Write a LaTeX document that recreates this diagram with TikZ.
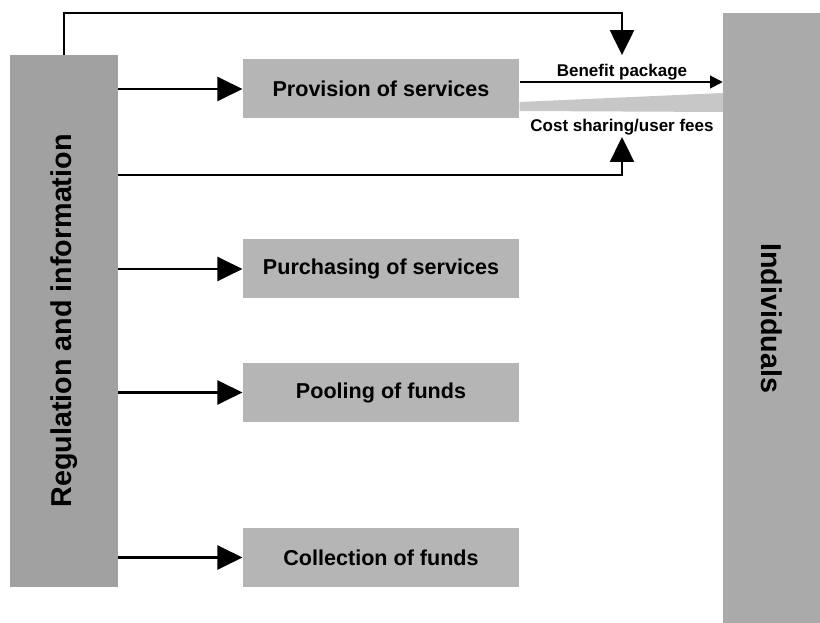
\documentclass[tikz,border=0pt]{standalone}
\usepackage{fontspec}
\setmainfont{Liberation Sans}
\usepackage{graphicx}
\usetikzlibrary{arrows.meta}

\definecolor{sidegray}{gray}{0.63}
\definecolor{boxgray}{gray}{0.71}
\definecolor{wedgegray}{gray}{0.78}

\tikzset{
  box/.style={fill=boxgray, minimum width=83mm, minimum height=17.7mm,
    font=\fontsize{18.4}{22}\selectfont\bfseries},
  sidebar/.style={fill=sidegray, inner sep=0pt,
    font=\fontsize{24.5}{28}\selectfont\bfseries},
  tag/.style={inner sep=1pt, font=\fontsize{14.5}{17}\selectfont\bfseries},
  flow/.style={line width=2pt, -{Triangle[length=7.5mm,width=7.2mm]}},
  thinflow/.style={line width=1.6pt, -{Triangle[length=3.8mm,width=3.8mm]}}
}

\begin{document}
\begin{tikzpicture}[x=0.3mm,y=0.3mm]
\useasboundingbox (0,0) rectangle (820,623);

% side columns
\node[sidebar, minimum width=32.4mm, minimum height=159.6mm] (reg) at (64,302)
  {\rotatebox{90}{Regulation and information}};
\node[sidebar, fill=sidegray!90!white, minimum width=29.1mm, minimum height=183mm] (indiv) at (771.5,305)
  {\rotatebox{-90}{Individuals}};

% the four functions
\node[box] (prov)  at (381,534)   {Provision of services};
\node[box] (purch) at (381,354)   {Purchasing of services};
\node[box] (pool)  at (381,230.5) {Pooling of funds};
\node[box] (coll)  at (381,65.5)  {Collection of funds};

% regulation acts on each function
\draw[flow] (reg.east |- prov.west)  -- (prov.west);
\draw[flow] (reg.east |- purch.west) -- (purch.west);
\draw[flow] (reg.east |- pool.west)  -- (pool.west);
\draw[flow] (reg.east |- coll.west)  -- (coll.west);

% between provision and individuals
\fill[wedgegray] (prov.east |- 0,521) -- (indiv.west |- 0,530)
  -- (indiv.west |- 0,511) -- (prov.east |- 0,512) -- cycle;
\node[tag, anchor=base] (benefit)   at (622,546) {Benefit package};
\node[tag, anchor=base] (costshare) at (622,491) {Cost sharing/user fees};
\draw[thinflow] (prov.east |- benefit.south) -- (indiv.west |- benefit.south);

% regulation of benefits and of cost sharing
\coordinate (toploop) at (622,610);
\coordinate (lowloop) at (622,448);
\draw[flow, shorten >=7pt] (reg.north) |- (toploop) -- (benefit.north);
\draw[flow] (reg.east |- lowloop) -- (lowloop) -- (costshare.south);

\end{tikzpicture}
\end{document}
